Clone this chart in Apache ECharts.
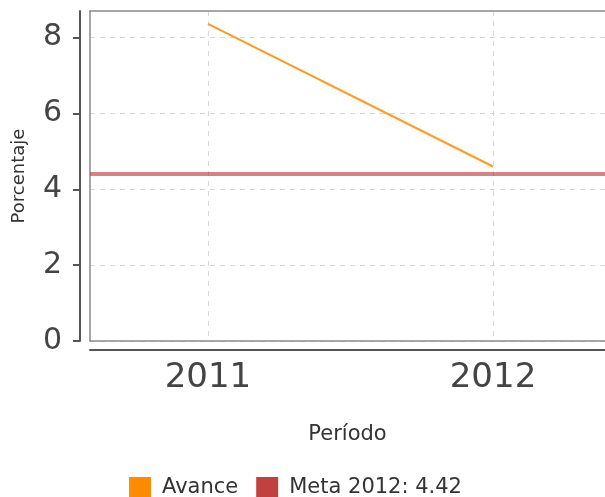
<!DOCTYPE html>
<html>
<head>
<meta charset="utf-8">
<script src="https://cdn.jsdelivr.net/npm/echarts@6/dist/echarts.min.js"></script>
<style>
  html, body { margin: 0; padding: 0; background: #fff; }
  #chart { width: 605px; height: 497px; }
</style>
</head>
<body>
<div id="chart"></div>
<script>
// data
var periodos = [2011, 2012]
var avance = [8.36, 4.6]
var meta = 4.42
var yTicks = [0, 2, 4, 6, 8]

var chart = echarts.init(document.getElementById('chart'))
var font = 'DejaVu Sans'
var xMin = 2010.586, xMax = 2012.393
var boxLine = { show: true, onZero: false, lineStyle: { color: '#8a8a8a', width: 1.5 } }
var gridLine = { show: true, lineStyle: { color: '#d8d8d8', type: [5, 5], width: 1 } }

// plot box: top, bottom and left edges only (right edge falls outside the picture)
function frameX(pos) {
  return {
    type: 'value', min: xMin, max: xMax, position: pos,
    axisLine: boxLine, axisTick: { show: false }, axisLabel: { show: false }, splitLine: { show: false }
  }
}

var option = {
  animation: false,
  textStyle: { fontFamily: font },
  grid: { left: 90, top: 11, right: 0, bottom: 156 },
  legend: {
    bottom: -7, left: 124,
    icon: 'rect', itemWidth: 22, itemHeight: 22, itemGap: 18,
    textStyle: { fontFamily: font, fontSize: 21, color: '#333', padding: [0, 0, 0, 6] },
    data: ['Avance', 'Meta 2012: ' + meta]
  },
  xAxis: [
    {
      type: 'value',
      min: xMin, max: xMax,
      position: 'bottom',
      offset: 9,
      name: 'Período', nameLocation: 'middle', nameGap: 74,
      nameTextStyle: { fontFamily: font, fontSize: 21, color: '#333' },
      axisLine: { show: true, onZero: false, lineStyle: { color: '#555', width: 2 } },
      axisTick: { show: false, customValues: periodos },
      axisLabel: {
        customValues: periodos, fontSize: 34, color: '#444', margin: 11,
        formatter: function (v) { return String(v) }
      },
      splitLine: gridLine
    },
    frameX('top'),
    frameX('bottom')
  ],
  yAxis: [
    {
      type: 'value',
      min: 0, max: 8.7,
      position: 'left',
      offset: 10,
      name: 'Porcentaje', nameLocation: 'middle', nameGap: 52,
      nameTextStyle: { fontFamily: font, fontSize: 18, color: '#333' },
      axisLine: { show: true, onZero: false, lineStyle: { color: '#555', width: 2 } },
      axisTick: { show: true, length: 7, customValues: yTicks, lineStyle: { color: '#555', width: 2 } },
      axisLabel: { customValues: yTicks, fontSize: 30, color: '#444', margin: 18 },
      splitLine: gridLine
    },
    {
      type: 'value', min: 0, max: 8.7, position: 'left', offset: 0,
      axisLine: boxLine, axisTick: { show: false }, axisLabel: { show: false }, splitLine: { show: false }
    }
  ],
  series: [
    {
      name: 'Avance',
      type: 'line',
      showSymbol: false,
      symbol: 'none',
      color: '#ff8c00',
      lineStyle: { color: '#ff9a1a', width: 2 },
      data: periodos.map(function (p, i) { return [p, avance[i]] })
    },
    {
      name: 'Meta 2012: ' + meta,
      type: 'line',
      color: '#c0413f',
      data: [],
      markLine: {
        silent: true,
        symbol: 'none',
        label: { show: false },
        lineStyle: { color: '#c0413f', width: 4, type: 'solid', opacity: 0.65 },
        data: [{ yAxis: meta }]
      }
    }
  ]
}
chart.setOption(option)
</script>
</body>
</html>
